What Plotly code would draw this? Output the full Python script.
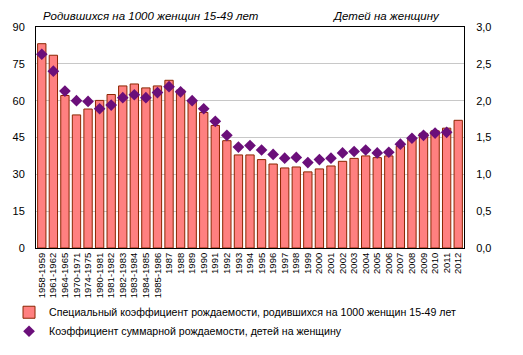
import plotly.graph_objects as go

categories = ["1958-1959", "1961-1962", "1964-1965", "1970-1971", "1974-1975",
              "1980-1981", "1981-1982", "1982-1983", "1983-1984", "1984-1985",
              "1985-1986", "1987", "1988", "1989", "1990", "1991", "1992", "1993",
              "1994", "1995", "1996", "1997", "1998", "1999", "2000", "2001",
              "2002", "2003", "2004", "2005", "2006", "2007", "2008", "2009",
              "2010", "2011", "2012"]

gfr = [83.2, 78.5, 62.1, 54.2, 56.6, 60.1, 62.5, 66.0, 66.8, 65.2,
       66.0, 68.3, 64.3, 60.1, 55.2, 49.9, 43.7, 37.9, 37.9, 36.0,
       34.2, 32.6, 33.0, 31.0, 32.2, 33.4, 35.3, 36.5, 37.5, 36.8,
       37.5, 41.4, 44.7, 46.7, 47.7, 48.8, 52.0]

tfr = [2.63, 2.40, 2.13, 2.00, 1.99, 1.89, 1.94, 2.04, 2.08, 2.04,
       2.11, 2.19, 2.12, 2.00, 1.89, 1.72, 1.53, 1.37, 1.39, 1.33,
       1.27, 1.22, 1.23, 1.16, 1.20, 1.22, 1.29, 1.31, 1.33, 1.29,
       1.30, 1.41, 1.49, 1.53, 1.56, 1.57, None]

left_ticks = [0, 15, 30, 45, 60, 75, 90]
right_ticks = [0, 0.5, 1.0, 1.5, 2.0, 2.5, 3.0]

name_bar = "Специальный коэффициент рождаемости, родившихся на 1000 женщин 15-49 лет"
name_pts = "Коэффициент суммарной рождаемости, детей на женщину"
title_left = "Родившихся на 1000 женщин 15-49 лет"
title_right = "Детей на женщину"

FONT = "Liberation Sans, Arial, sans-serif"

fig = go.Figure()
fig.add_trace(go.Bar(
    x=categories, y=gfr, name=name_bar, width=0.72,
    marker=dict(color="#FF8080", line=dict(color="#8B2500", width=1)),
))
fig.add_trace(go.Scatter(
    x=categories, y=tfr, name=name_pts, mode="markers", yaxis="y2",
    marker=dict(symbol="diamond", size=9, color="#6B0F7A"),
))

fig.update_layout(
    width=515, height=347,
    margin=dict(l=28, r=59, t=19, b=107, pad=0, autoexpand=False),
    paper_bgcolor="white", plot_bgcolor="white",
    font=dict(family=FONT, size=11, color="#000000"),
    separators=", ",
    showlegend=True,
    legend=dict(
        orientation="v", xref="container", yref="container",
        x=0.002, xanchor="left", y=0.165, yanchor="top",
        font=dict(family=FONT, size=10.6, color="#000000"),
        itemwidth=30, tracegroupgap=0, bgcolor="rgba(0,0,0,0)",
    ),
    xaxis=dict(
        type="category", tickangle=-90, tickfont=dict(size=9.5),
        tickmode="linear", dtick=1, automargin=False,
        showline=True, linecolor="#000000", linewidth=1, mirror=True,
        showgrid=False, ticks="", range=[-0.5, len(categories) - 0.5],
    ),
    yaxis=dict(
        range=[0, 90], tickvals=left_ticks, tickfont=dict(size=11),
        showline=True, linecolor="#000000", linewidth=1, automargin=False,
        showgrid=True, gridcolor="#C8C8C8", gridwidth=1,
        zeroline=False, ticks="", ticklabelstandoff=8,
    ),
    yaxis2=dict(
        range=[0, 3], tickvals=right_ticks, tickformat=".1f", tickfont=dict(size=11),
        overlaying="y", side="right", automargin=False,
        showline=True, linecolor="#000000", linewidth=1,
        showgrid=False, zeroline=False, ticks="", ticklabelstandoff=9,
    ),
    annotations=[
        dict(text="<i>" + title_left + "</i>", xref="paper", yref="paper",
             x=0.012, y=1, xanchor="left", yanchor="bottom", yshift=3,
             showarrow=False, font=dict(family=FONT, size=11.5)),
        dict(text="<i>" + title_right + "</i>", xref="paper", yref="paper",
             x=0.948, y=1, xanchor="right", yanchor="bottom", yshift=3,
             showarrow=False, font=dict(family=FONT, size=11.5)),
    ],
)

fig.write_html("out.html")
